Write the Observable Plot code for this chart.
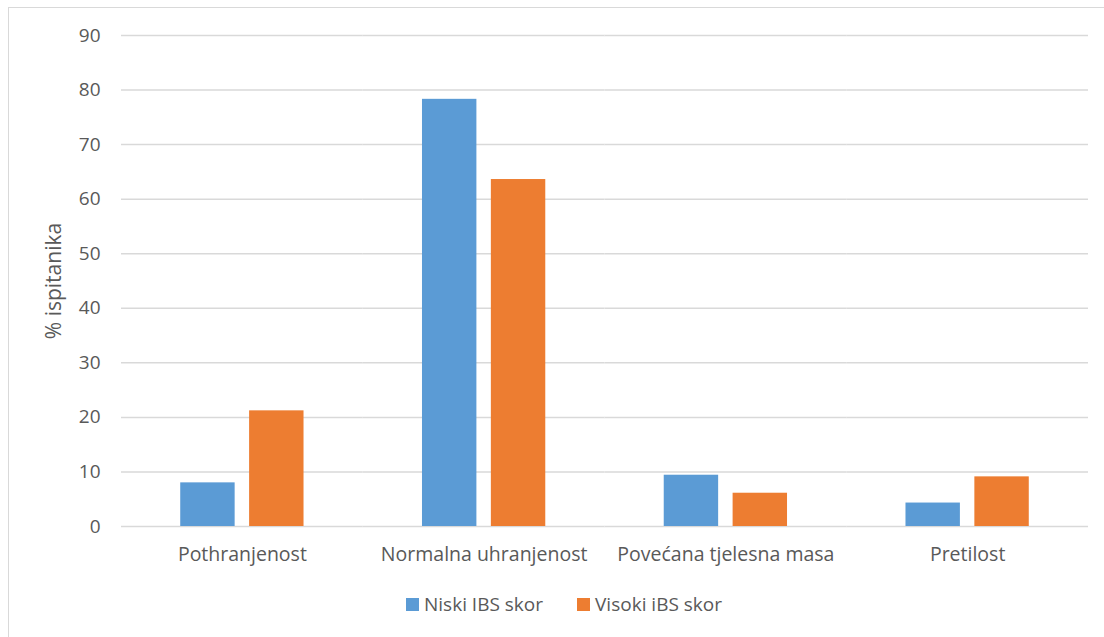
<!DOCTYPE html>
<html>
<head>
<meta charset="utf-8">
<script src="https://cdn.jsdelivr.net/npm/d3@7"></script>
<script src="https://cdn.jsdelivr.net/npm/@observablehq/plot@0.6"></script>
<style>
  html, body { margin: 0; padding: 0; background: #fff; }
  #wrap { position: relative; width: 1104px; height: 637px; overflow: hidden; font-family: "Open Sans", sans-serif; }
  #frame { position: absolute; left: 8px; top: 7px; width: 1200px; height: 700px; border-left: 1.5px solid #d9d9d9; border-top: 1.5px solid #d9d9d9; }
  #chart { position: absolute; left: 0; top: 0; }
  #legend { position: absolute; left: 406px; top: 595px; display: flex; align-items: center; font-size: 19px; line-height: 19px; color: #595959; }
  .item { display: flex; align-items: center; margin-right: 34px; }
  .sw { width: 13px; height: 13px; margin-right: 5px; }
</style>
</head>
<body>
<div id="wrap">
  <div id="frame"></div>
  <div id="chart"></div>
  <div id="legend"></div>
</div>
<script>
const categories = ["Pothranjenost", "Normalna uhranjenost", "Povećana tjelesna masa", "Pretilost"];
const series = ["Niski IBS skor", "Visoki iBS skor"];
const niski = [8.0, 78.3, 9.4, 4.3];
const visoki = [21.2, 63.6, 6.1, 9.1];
const colors = ["#5b9bd5", "#ed7d31"];
const yTicks = [0, 10, 20, 30, 40, 50, 60, 70, 80, 90];

const data = [];
categories.forEach((c, i) => {
  data.push({category: c, series: series[0], value: niski[i]});
  data.push({category: c, series: series[1], value: visoki[i]});
});

const chart = Plot.plot({
  width: 1104,
  height: 580,
  marginTop: 35,
  marginBottom: 54,
  marginLeft: 121,
  marginRight: 16,
  style: {fontFamily: "Open Sans, sans-serif", fontSize: "19px", color: "#595959", background: "transparent", overflow: "visible"},
  fx: {domain: categories, padding: 0, round: false, label: null},
  x: {domain: series, paddingInner: 0.21, paddingOuter: 0.86, round: false, axis: null},
  y: {domain: [0, 90], ticks: yTicks},
  color: {domain: series, range: colors},
  marks: [
    Plot.ruleY(yTicks, {stroke: "#d9d9d9", strokeWidth: 1.5, strokeOpacity: 1}),
    Plot.barY(data, {fx: "category", x: "series", y: "value", fill: "series"}),
    Plot.axisY({ticks: yTicks, tickSize: 0, tickPadding: 21, label: null, fill: "#595959", fontSize: 19}),
    Plot.axisY({ticks: [], tickSize: 0, label: "% ispitanika", labelAnchor: "center", labelArrow: "none", labelOffset: 75, fill: "#595959", fontSize: 21}),
    Plot.axisFx({anchor: "bottom", tickSize: 0, tickPadding: 21, label: null, fill: "#595959", fontSize: 19.5})
  ]
});
document.getElementById("chart").appendChild(chart);

const legend = document.getElementById("legend");
series.forEach((s, i) => {
  const item = document.createElement("div");
  item.className = "item";
  const sw = document.createElement("div");
  sw.className = "sw";
  sw.style.background = colors[i];
  const t = document.createElement("span");
  t.textContent = s;
  item.appendChild(sw);
  item.appendChild(t);
  legend.appendChild(item);
});
</script>
</body>
</html>
